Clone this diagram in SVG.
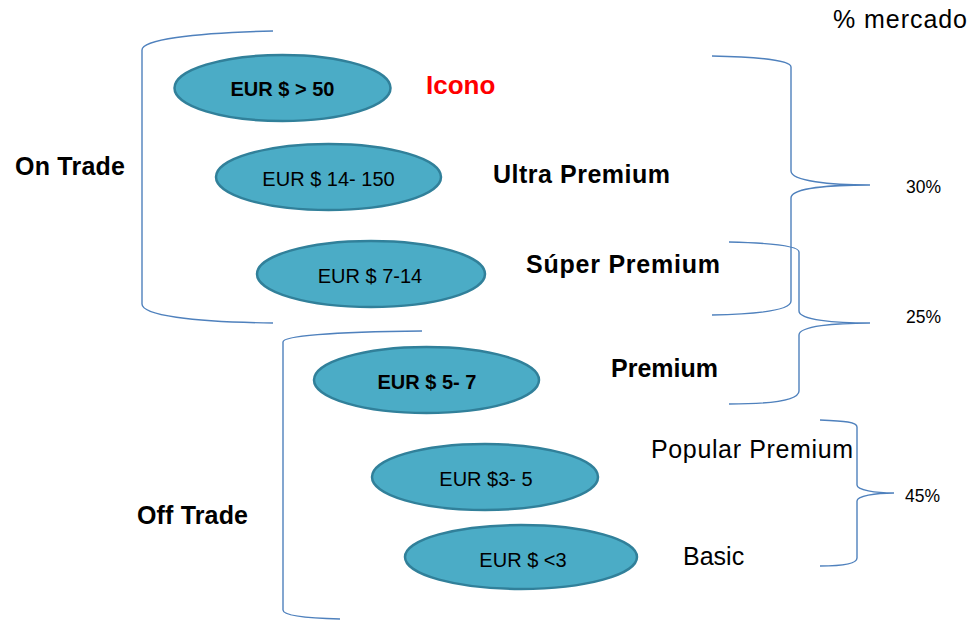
<svg xmlns="http://www.w3.org/2000/svg" width="970" height="620" viewBox="0 0 970 620">
<style>
.ell{fill:#4BACC6;stroke:#31809A;stroke-width:2.5}
.et{font-family:"Liberation Sans",Arial,sans-serif;font-size:20px;fill:#000;text-anchor:middle}
.eb{font-weight:bold}
.br{fill:none;stroke:#4F81BD;stroke-width:1.4}
.lb{font-family:"Liberation Sans",Arial,sans-serif;font-size:25px;font-weight:bold;fill:#000}
.lr{font-family:"Liberation Sans",Arial,sans-serif;font-size:25px;fill:#000}
.pc{font-family:"Liberation Sans",Arial,sans-serif;font-size:17.5px;fill:#000}
</style>
<rect width="970" height="620" fill="#fff"/>
<g id="connectors">
<path class="br" d="M 273 31 C 190 33 142 40 142 50 L 142 304 C 142 315 190 322 273 323"/>
<path class="br" d="M 422 331 C 330 332 283 336 283 342 L 283 610 C 283 615 300 618 340 619"/>
<path class="br" d="M 712 56 C 762 57 791 61 791 67 L 791 171 C 791 181 830 185 870 185 C 830 185 791 188 791 198 L 791 301 C 791 310 762 314 712 315"/>
<path class="br" d="M 729 242 C 772 243 799 246 799 252 L 799 311 C 799 320 835 323 870 323 C 835 323 799 326 799 335 L 799 391 C 799 400 772 404 729 404"/>
<path class="br" d="M 820 420 C 845 421 857 422 857 427 L 857 485 C 857 490 875 493 894 493 C 875 493 857 496 857 501 L 857 558 C 857 563 845 566 820 566"/>
</g>
<g id="n-gt50"><ellipse class="ell" cx="282.5" cy="88" rx="108" ry="33"/><text class="et eb" x="282.5" y="96">EUR $ &gt; 50</text></g>
<g id="n-14-150"><ellipse class="ell" cx="328.5" cy="177" rx="112.5" ry="33"/><text class="et" x="328.5" y="186">EUR $ 14- 150</text></g>
<g id="n-7-14"><ellipse class="ell" cx="371" cy="274" rx="114" ry="33"/><text class="et" x="370" y="283">EUR $ 7-14</text></g>
<g id="n-5-7"><ellipse class="ell" cx="426.5" cy="380" rx="112.5" ry="33"/><text class="et eb" x="427" y="389">EUR $ 5- 7</text></g>
<g id="n-3-5"><ellipse class="ell" cx="485" cy="477" rx="113" ry="33"/><text class="et" x="486" y="486">EUR $3- 5</text></g>
<g id="n-lt3"><ellipse class="ell" cx="521" cy="557" rx="116" ry="32"/><text class="et" x="523" y="567">EUR $ &lt;3</text></g>
<g id="labels">
<text class="lr" x="833" y="28" textLength="134">% mercado</text>
<text class="lb" x="426" y="94" style="fill:#FF0000;font-size:26px">Icono</text>
<text class="lb" x="15" y="175" textLength="110">On Trade</text>
<text class="lb" x="493" y="183" textLength="177">Ultra Premium</text>
<text class="lb" x="526" y="273" textLength="194">Súper Premium</text>
<text class="lb" x="611" y="377" textLength="107">Premium</text>
<text class="lr" x="651" y="458" textLength="202">Popular Premium</text>
<text class="lr" x="683" y="565">Basic</text>
<text class="lb" x="137" y="524" textLength="111">Off Trade</text>
<text class="pc" x="906" y="193">30%</text>
<text class="pc" x="906" y="323">25%</text>
<text class="pc" x="905" y="502">45%</text>
</g>
</svg>
